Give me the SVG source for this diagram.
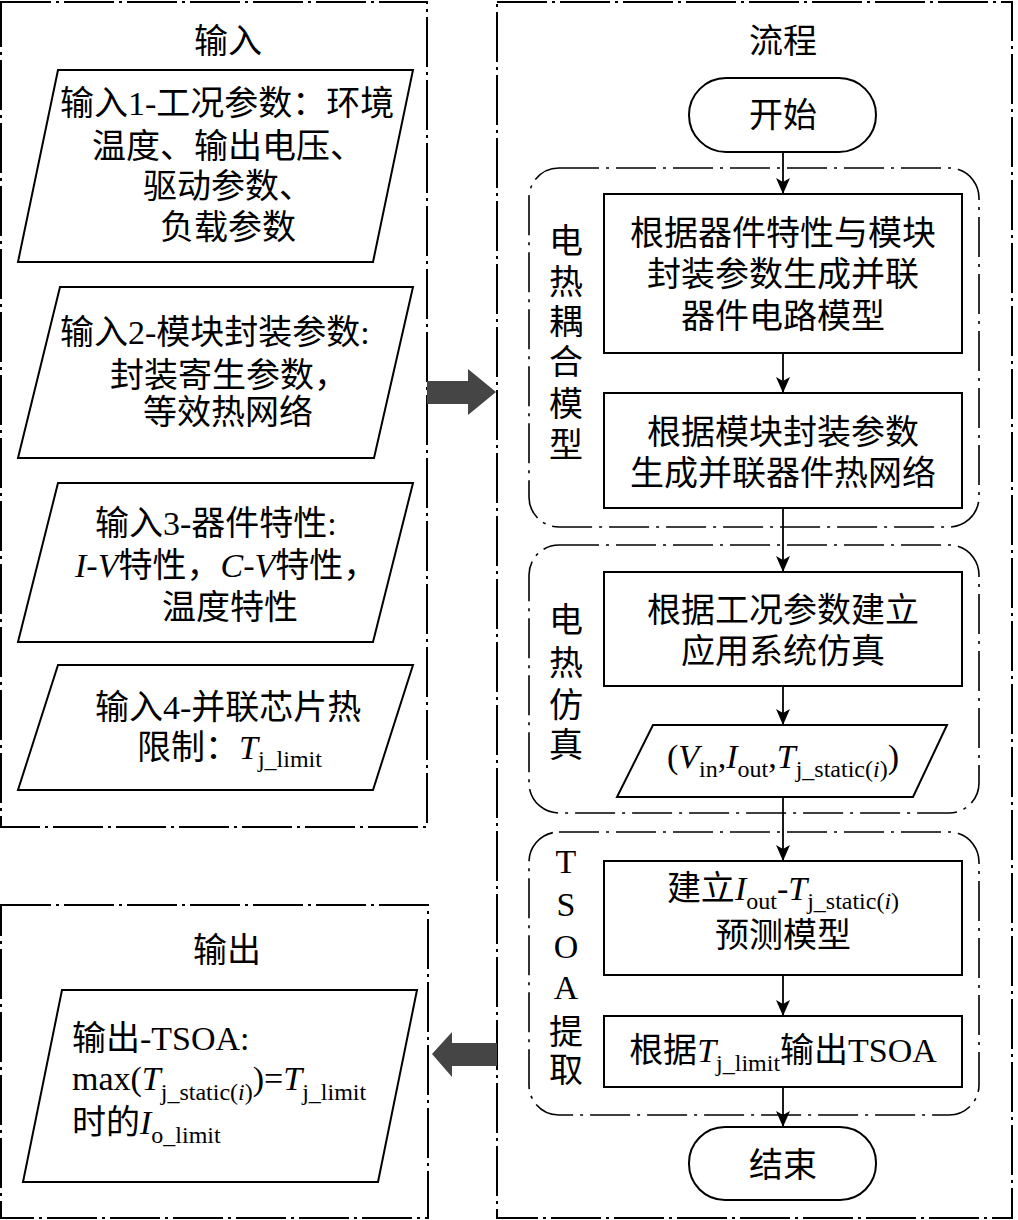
<svg xmlns="http://www.w3.org/2000/svg" width="1018" height="1220" viewBox="0 0 1018 1220">
<defs>
<style>
.frame{fill:none;stroke:#000;stroke-width:2;stroke-dasharray:50 5 3 5}
.grp{fill:none;stroke:#000;stroke-width:1.6;stroke-dasharray:40 7 3 7}
.box{fill:#fff;stroke:#000;stroke-width:2}
.t{font-family:"Liberation Serif","Noto Sans CJK SC",serif;font-size:34px;fill:#000}
.c{text-anchor:middle}
.s{font-size:24px}
.i{font-style:italic}
.con{stroke:#000;stroke-width:1.8;fill:none}
.big{fill:#454545;stroke:none}
</style>
<marker id="ah" markerUnits="userSpaceOnUse" markerWidth="16" markerHeight="16" refX="16" refY="7" orient="auto">
<path d="M0,0 L16,7 L0,14 L4,7 Z" fill="#000"/>
</marker>
</defs>
<rect width="1018" height="1220" fill="#fff"/>

<g id="input-frame">
<rect class="frame" x="1" y="2" width="426" height="825"/>
<text class="t c" x="228" y="53">输入</text>
</g>
<g id="input1">
<polygon class="box" points="58,70 413,70 373,262 18,262"/>
<text class="t" x="60" y="115">输入1-工况参数：环境</text>
<text class="t" x="92" y="158">温度、输出电压、</text>
<text class="t" x="143" y="198">驱动参数、</text>
<text class="t" x="160" y="239">负载参数</text>
</g>
<g id="input2">
<polygon class="box" points="60,287 413,287 374,458 18,458"/>
<text class="t" x="60" y="344">输入2-模块封装参数:</text>
<text class="t" x="110" y="387">封装寄生参数，</text>
<text class="t" x="143" y="424">等效热网络</text>
</g>
<g id="input3">
<polygon class="box" points="58,483 413,483 373,642 18,642"/>
<text class="t" x="95" y="535">输入3-器件特性:</text>
<text class="t" x="75" y="577"><tspan class="i">I</tspan>-<tspan class="i">V</tspan>特性，<tspan class="i">C</tspan>-<tspan class="i">V</tspan>特性，</text>
<text class="t" x="162" y="619">温度特性</text>
</g>
<g id="input4">
<polygon class="box" points="58,665 413,665 373,790 18,790"/>
<text class="t" x="95" y="719">输入4-并联芯片热</text>
<text class="t" x="137" y="759">限制：<tspan class="i">T</tspan><tspan class="s" dy="8">j_limit</tspan></text>
</g>

<g id="output-frame">
<rect class="frame" x="1" y="905" width="427" height="313"/>
<text class="t c" x="227" y="962">输出</text>
</g>
<g id="output">
<polygon class="box" points="62,990 417,990 378,1182 23,1182"/>
<text class="t" x="72" y="1050">输出-TSOA:</text>
<text class="t" x="72" y="1090">max(<tspan class="i">T</tspan><tspan class="s" dy="10">j_static(</tspan><tspan class="s i">i</tspan><tspan class="s">)</tspan><tspan dy="-10">)=</tspan><tspan class="i">T</tspan><tspan class="s" dy="10">j_limit</tspan></text>
<text class="t" x="72" y="1134">时的<tspan class="i">I</tspan><tspan class="s" dy="9">o_limit</tspan></text>
</g>

<g id="flow-frame">
<rect class="frame" x="497" y="2" width="515" height="1216"/>
<text class="t c" x="783" y="53">流程</text>
</g>

<g id="group-coupling">
<rect class="grp" x="529" y="168" width="450" height="359" rx="30"/>
<text class="t c" x="566" y="253">电</text>
<text class="t c" x="566" y="294">热</text>
<text class="t c" x="566" y="334">耦</text>
<text class="t c" x="566" y="374">合</text>
<text class="t c" x="566" y="416">模</text>
<text class="t c" x="566" y="457">型</text>
</g>
<g id="group-sim">
<rect class="grp" x="529" y="545" width="450" height="268" rx="30"/>
<text class="t c" x="566" y="632">电</text>
<text class="t c" x="566" y="675">热</text>
<text class="t c" x="566" y="717">仿</text>
<text class="t c" x="566" y="757">真</text>
</g>
<g id="group-tsoa">
<rect class="grp" x="529" y="832" width="450" height="283" rx="30"/>
<text class="t c" x="566" y="873">T</text>
<text class="t c" x="566" y="916">S</text>
<text class="t c" x="566" y="958">O</text>
<text class="t c" x="566" y="999">A</text>
<text class="t c" x="566" y="1044">提</text>
<text class="t c" x="566" y="1082">取</text>
</g>

<g id="start">
<rect class="box" x="689" y="78" width="187" height="74" rx="37"/>
<text class="t c" x="783" y="127">开始</text>
</g>
<g id="step1">
<rect class="box" x="604" y="194" width="358" height="159"/>
<text class="t c" x="783" y="245">根据器件特性与模块</text>
<text class="t c" x="783" y="286">封装参数生成并联</text>
<text class="t c" x="783" y="328">器件电路模型</text>
</g>
<g id="step2">
<rect class="box" x="604" y="393" width="358" height="115"/>
<text class="t c" x="783" y="444">根据模块封装参数</text>
<text class="t c" x="783" y="485">生成并联器件热网络</text>
</g>
<g id="step3">
<rect class="box" x="604" y="572" width="358" height="114"/>
<text class="t c" x="783" y="622">根据工况参数建立</text>
<text class="t c" x="783" y="663">应用系统仿真</text>
</g>
<g id="data">
<polygon class="box" points="653,725 947,725 913,797 617,797"/>
<text class="t c" x="783" y="768">(<tspan class="i">V</tspan><tspan class="s" dy="9">in</tspan><tspan dy="-9">,</tspan><tspan class="i">I</tspan><tspan class="s" dy="9">out</tspan><tspan dy="-9">,</tspan><tspan class="i">T</tspan><tspan class="s" dy="9">j_static(</tspan><tspan class="s i">i</tspan><tspan class="s">)</tspan><tspan dy="-9">)</tspan></text>
</g>
<g id="step4">
<rect class="box" x="604" y="861" width="358" height="114"/>
<text class="t c" x="783" y="900">建立<tspan class="i">I</tspan><tspan class="s" dy="9">out</tspan><tspan dy="-9">-</tspan><tspan class="i">T</tspan><tspan class="s" dy="9">j_static(</tspan><tspan class="s i">i</tspan><tspan class="s">)</tspan></text>
<text class="t c" x="783" y="947">预测模型</text>
</g>
<g id="step5">
<rect class="box" x="604" y="1016" width="358" height="71"/>
<text class="t c" x="783" y="1062">根据<tspan class="i">T</tspan><tspan class="s" dy="9">j_limit</tspan><tspan dy="-9">输出TSOA</tspan></text>
</g>
<g id="end">
<rect class="box" x="689" y="1127" width="187" height="73" rx="36"/>
<text class="t c" x="783" y="1177">结束</text>
</g>

<g id="connectors">
<line class="con" x1="783" y1="152" x2="783" y2="194" marker-end="url(#ah)"/>
<line class="con" x1="783" y1="353" x2="783" y2="393" marker-end="url(#ah)"/>
<line class="con" x1="783" y1="508" x2="783" y2="572" marker-end="url(#ah)"/>
<line class="con" x1="783" y1="686" x2="783" y2="725" marker-end="url(#ah)"/>
<line class="con" x1="783" y1="797" x2="783" y2="861" marker-end="url(#ah)"/>
<line class="con" x1="783" y1="975" x2="783" y2="1016" marker-end="url(#ah)"/>
<line class="con" x1="783" y1="1087" x2="783" y2="1127" marker-end="url(#ah)"/>
<polygon class="big" points="427,381 468,381 468,369 496,392 468,415 468,404 427,404"/>
<polygon class="big" points="497,1043 452,1043 452,1032 432,1054 452,1077 452,1066 497,1066"/>
</g>
</svg>
